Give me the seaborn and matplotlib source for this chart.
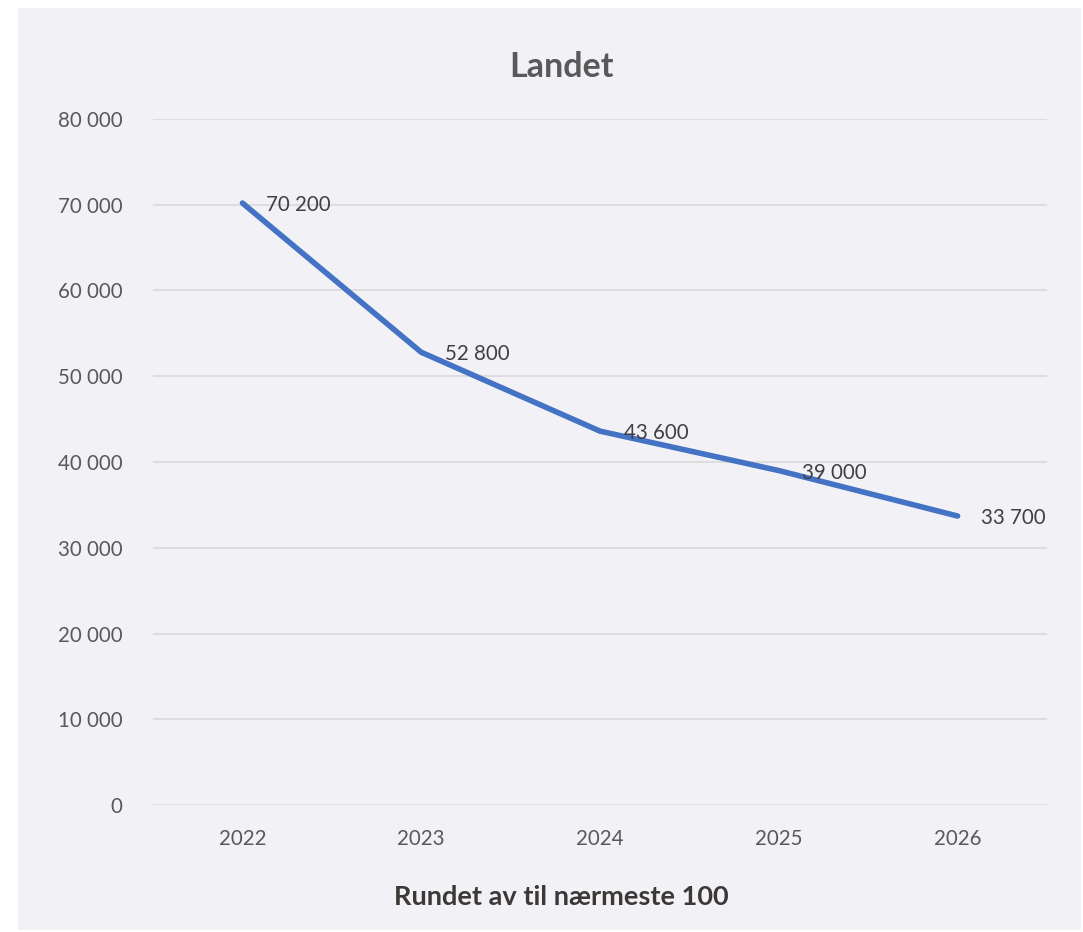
import matplotlib
matplotlib.use("Agg")
import matplotlib.pyplot as plt
import seaborn as sns
import pandas as pd
from matplotlib.patches import Rectangle
from matplotlib.ticker import FuncFormatter

years = ["2022", "2023", "2024", "2025", "2026"]
values = [70200, 52800, 43600, 39000, 33700]
yticks = [0, 10000, 20000, 30000, 40000, 50000, 60000, 70000, 80000]

sns.set_theme(style="white")
plt.rcParams['font.family'] = ['Lato', 'DejaVu Sans']

BG = "#F2F1F6"
fig = plt.figure(figsize=(10.83, 9.32), dpi=100, facecolor="white")
fig.patches.append(Rectangle((18/1083, 2/932), (1081-18)/1083, (930-8)/932,
                             transform=fig.transFigure, facecolor=BG, edgecolor="none", zorder=-10))
ax = fig.add_axes([153/1083, 1-805/932, (1047-153)/1083, (805-119)/932])
ax.set_facecolor(BG)

df = pd.DataFrame({"year": years, "value": values})
sns.lineplot(data=df, x="year", y="value", ax=ax, color="#4472C4", linewidth=4,
             solid_capstyle="round", solid_joinstyle="round", sort=False)

ax.set_xlim(-0.5, len(years) - 0.5)
ax.set_ylim(0, 80000)
ax.set_yticks(yticks)
ax.yaxis.set_major_formatter(FuncFormatter(lambda v, p: f"{int(v):,}".replace(",", " ")))
ax.grid(axis="y", color="#D9D9D9", linewidth=1.2)
ax.set_axisbelow(True)
for s in ax.spines.values():
    s.set_visible(False)
ax.tick_params(axis="both", length=0, labelsize=14.8, colors="#595959")
ax.tick_params(axis="y", pad=22)
ax.tick_params(axis="x", pad=17)

for i, v in enumerate(values):
    ax.annotate(f"{v:,}".replace(",", " "), (i, v), xytext=(17, -1.5), textcoords="offset points",
                ha="left", va="center", fontsize=14.8, color="#404040")

ax.set_ylabel("")
ax.set_xlabel("")
fig.text(561/1083, 1-897/932, "Rundet av til nærmeste 100", ha="center", va="center",
         fontsize=19.5, fontweight="bold", color="#3B3835")
fig.text(561/1083, 1-67/932, "Landet", ha="center", va="center",
         fontsize=24.5, fontweight="bold", color="#595959")

fig.savefig("out.png", dpi=100, facecolor="white")
